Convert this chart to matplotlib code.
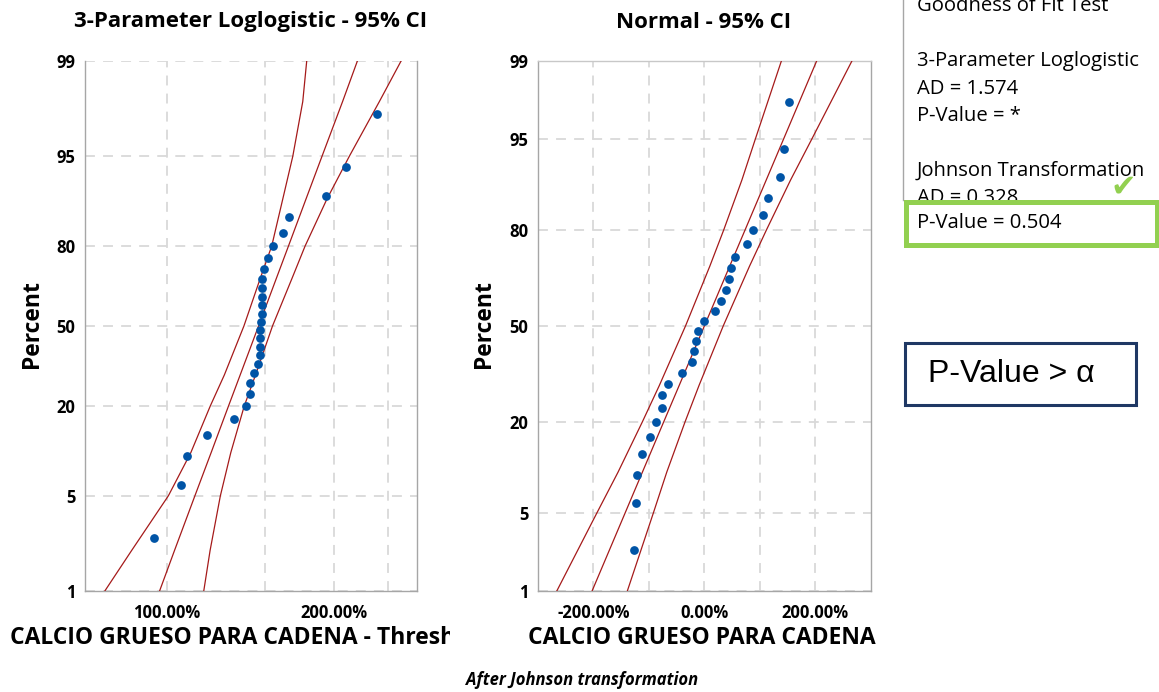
import numpy as np
import matplotlib
matplotlib.use('Agg')
import matplotlib.pyplot as plt
from matplotlib.patches import Rectangle
from matplotlib.lines import Line2D
from matplotlib.transforms import Bbox, TransformedBbox
from statistics import NormalDist

plt.rcParams['font.family'] = ['Open Sans', 'DejaVu Sans']

W, H = 1159, 692

# plotting positions (median ranks, percent) of the 28 observations
rank_pct = [2.46, 5.99, 9.51, 13.03, 16.55, 20.07, 23.59, 27.11, 30.63, 34.15,
            37.68, 41.20, 44.72, 48.24, 51.76, 55.28, 58.80, 62.32, 65.85, 69.37,
            72.89, 76.41, 79.93, 83.45, 86.97, 90.49, 94.01, 97.54]

# left panel: data - threshold (%), log scale
loglog_x = [95.0, 106.1, 108.8, 118.3, 132.1, 138.9, 141.2, 141.2, 143.7, 146.1,
            147.2, 147.2, 147.2, 147.2, 147.6, 148.6, 148.6, 148.6, 148.6, 148.6,
            149.8, 152.3, 155.1, 161.7, 166.0, 193.4, 210.2, 238.7]

# right panel: Johnson transformed data (%)
johnson_x = [-127.7, -124.1, -121.3, -112.8, -98.5, -87.8, -76.5, -76.5, -65.7, -39.9,
             -22.0, -18.4, -14.9, -10.7, 0.0, 18.4, 29.9, 39.9, 44.2, 47.8,
             55.0, 77.6, 87.8, 105.7, 114.1, 135.6, 143.3, 153.5]

# fitted line and 95% CI, loglogistic
ll_pct = [1, 2, 5, 10, 20, 30, 50, 70, 80, 90, 95, 98, 99]
ll_fit = [97.1, 103.3, 112.4, 120.2, 129.2, 135.6, 146.3, 157.8, 165.6, 178.0, 190.3, 207.2, 220.3]
ll_lo = [77.4, 86.5, 100.7, 110.5, 119.8, 127.0, 137.7, 147.6, 154.5, 161.7, 168.6, 175.7, 178.6]
ll_hi = [116.6, 119.7, 124.9, 130.4, 137.9, 144.5, 155.0, 168.4, 177.4, 194.1, 213.1, 241.3, 264.0]

# fitted line and 95% CI, normal
nm_pct = [1, 5, 10, 20, 30, 50, 70, 80, 90, 95, 99]
nm_fit = [-202.5, -143.2, -111.6, -73.3, -45.6, 0.0, 45.6, 73.3, 111.6, 143.2, 202.5]
nm_lo = [-266.1, -194.2, -155.5, -111.8, -81.4, -34.0, 9.8, 34.8, 67.7, 92.2, 138.9]
nm_hi = [-138.9, -92.2, -67.7, -34.8, -9.8, 34.0, 81.4, 111.8, 155.5, 194.2, 266.1]

y_ticks = [1, 5, 20, 50, 80, 95, 99]
ll_xticks = [100, 150, 200, 250]
ll_xlabels = ['100.00%', '', '200.00%', '']
nm_xticks = [-200, -100, 0, 100, 200]
nm_xlabels = ['-200.00%', '', '0.00%', '', '200.00%']

gof_lines = ['Goodness of Fit Test', '', '3-Parameter Loglogistic', 'AD = 1.574',
             'P-Value = *', '', 'Johnson Transformation', 'AD = 0.328']


def logit_fwd(p):
    p = np.clip(np.asarray(p, float), 1e-3, 100 - 1e-3) / 100
    return np.log(p / (1 - p))


def logit_inv(z):
    return 100 / (1 + np.exp(-np.asarray(z, float)))


_nd = NormalDist()


def probit_fwd(p):
    p = np.clip(np.asarray(p, float), 1e-3, 100 - 1e-3) / 100
    return np.vectorize(_nd.inv_cdf, otypes=[float])(p)


def probit_inv(z):
    return 100 * np.vectorize(_nd.cdf, otypes=[float])(np.asarray(z, float))


def fx(x):
    return x / W


def fy(y):
    return 1 - y / H


fig = plt.figure(figsize=(W / 100, H / 100), dpi=100)
fig.patch.set_facecolor('white')

red = '#A51A1A'
blue = '#0054A6'
grid_kw = dict(color='#D9D9D9', linewidth=1.3, linestyle=(0, (5.5, 4.5)))
spine_c = '#A6A6A6'

ax1 = fig.add_axes([fx(85), fy(591), fx(417) - fx(85), fy(61) - fy(591)])
ax2 = fig.add_axes([fx(538), fy(591), fx(870.7) - fx(538), fy(61) - fy(591)])

# left: 3-parameter loglogistic
ax1.set_xscale('log')
ax1.set_yscale('function', functions=(logit_fwd, logit_inv))
for xs in (ll_lo, ll_fit, ll_hi):
    ax1.plot(xs, ll_pct, color=red, lw=0.9, zorder=3)
ax1.plot(loglog_x, rank_pct, 'o', color=blue, ms=6.3, mec='none', zorder=4)
ax1.set_xlim(71.3, 282)
ax1.set_xticks(ll_xticks)
ax1.set_xticklabels(ll_xlabels)
ax1.xaxis.set_minor_locator(matplotlib.ticker.NullLocator())

# right: normal (Johnson transformed)
ax2.set_yscale('function', functions=(probit_fwd, probit_inv))
for xs in (nm_lo, nm_fit, nm_hi):
    ax2.plot(xs, nm_pct, color=red, lw=0.9, zorder=3)
ax2.plot(johnson_x, rank_pct, 'o', color=blue, ms=6.3, mec='none', zorder=4)
ax2.set_xlim(-300, 300)
ax2.set_xticks(nm_xticks)
ax2.set_xticklabels(nm_xlabels)

for ax in (ax1, ax2):
    ax.set_ylim(1, 99)
    ax.set_yticks(y_ticks)
    ax.set_yticklabels([str(v) for v in y_ticks])
    ax.yaxis.set_minor_locator(matplotlib.ticker.NullLocator())
    ax.grid(True, **grid_kw)
    ax.set_axisbelow(True)
    ax.tick_params(length=0, labelsize=12)
    ax.tick_params(axis='y', pad=7)
    ax.tick_params(axis='x', pad=9)
    for lab in ax.get_xticklabels() + ax.get_yticklabels():
        lab.set_fontweight('bold')
    for s in ax.spines.values():
        s.set_color(spine_c)
        s.set_linewidth(1.0)
ax1.spines['top'].set_visible(False)
ax2.spines['top'].set_color('#C8C8C8')

# titles and axis labels
fig.text(fx(251), fy(22), '3-Parameter Loglogistic - 95% CI', ha='center', va='center',
         fontsize=16, fontweight='bold')
fig.text(fx(704), fy(22), 'Normal - 95% CI', ha='center', va='center',
         fontsize=16, fontweight='bold')
for xp in (32, 484):
    fig.text(fx(xp), fy(324), 'Percent', rotation=90, ha='center', va='center',
             fontsize=16.5, fontweight='bold')
lab = fig.text(fx(10), fy(638), 'CALCIO GRUESO PARA CADENA - Threshold', ha='left',
               va='center', fontsize=16.5, fontweight='bold')
lab.set_clip_box(TransformedBbox(Bbox([[0, 0], [450 / W, 1]]), fig.transFigure))
lab.set_clip_on(True)
fig.text(fx(702), fy(638), 'CALCIO GRUESO PARA CADENA', ha='center', va='center',
         fontsize=16.5, fontweight='bold')
fig.text(fx(582), fy(680), 'After Johnson transformation', ha='center', va='center',
         fontsize=12, fontweight='bold', style='italic')

# goodness of fit panel
fig.add_artist(Line2D([fx(903), fx(903)], [fy(0), fy(200)], color='#A6A6A6', lw=1.0))
for i, t in enumerate(gof_lines):
    fig.text(fx(917), fy(6 + 27.5 * i), t, ha='left', va='center', fontsize=14.6, zorder=2)
fig.add_artist(Rectangle((fx(905.5), fy(245.5)), fx(1156.5) - fx(905.5), fy(202.5) - fy(245.5),
                         transform=fig.transFigure, facecolor='white', edgecolor='#92D050',
                         lw=3.6, zorder=3))
fig.text(fx(917), fy(223), 'P-Value = 0.504', ha='left', va='center', fontsize=14.6, zorder=4)
fig.text(fx(1123), fy(187), '\u2714', ha='center', va='center', fontsize=22,
         color='#92D050', family='DejaVu Sans', zorder=4)

# conclusion box
fig.add_artist(Rectangle((fx(904.8), fy(404.5)), fx(1135.8) - fx(904.8), fy(343.2) - fy(404.5),
                         transform=fig.transFigure, facecolor='white', edgecolor='#1F3864',
                         lw=2.2, zorder=3))
fig.text(fx(928), fy(374), 'P-Value > \u03b1', ha='left', va='center', fontsize=23,
         family='Liberation Sans', zorder=4)

fig.savefig('out.png', dpi=100)
